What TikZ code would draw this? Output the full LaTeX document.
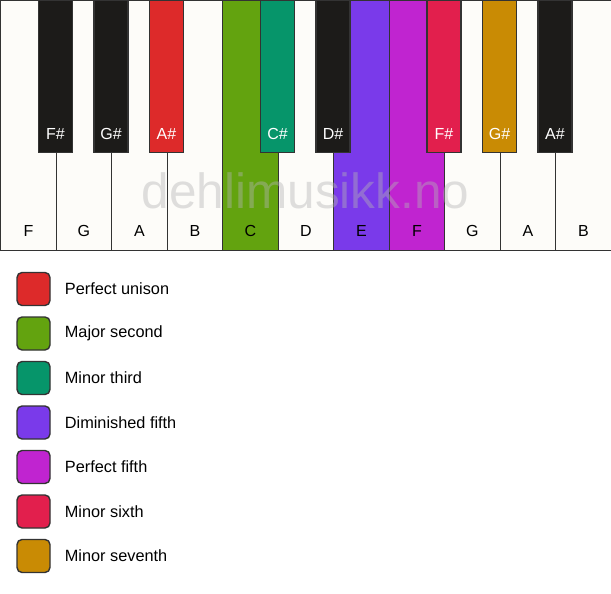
\documentclass[tikz,border=0pt]{standalone}
\usepackage{fontspec}
\setmainfont{Liberation Sans}
\usetikzlibrary{positioning}
\definecolor{keywhite}{HTML}{FDFCF9}
\definecolor{keyblack}{HTML}{1C1B19}
\definecolor{keyline}{HTML}{333333}
\definecolor{markgray}{RGB}{180,180,180}
\definecolor{unison}{HTML}{DD2A2A}
\definecolor{second}{HTML}{63A30F}
\definecolor{third}{HTML}{06956A}
\definecolor{dimfifth}{HTML}{7A3AEA}
\definecolor{fifth}{HTML}{C024D0}
\definecolor{sixth}{HTML}{E21F4D}
\definecolor{seventh}{HTML}{C98B04}
\begin{document}
\begin{tikzpicture}[x=1pt,y=-1pt]
\tikzstyle{every node}+=[inner sep=0pt]
\tikzstyle{whitekey}=[draw=keyline,line width=1.4pt,fill=keywhite,minimum width=55.5pt,minimum height=250pt,anchor=north west]
\tikzstyle{blackkey}=[draw=keyline,line width=1.4pt,fill=keyblack,minimum width=34pt,minimum height=152pt,anchor=north]
\tikzstyle{wname}=[font=\fontsize{16}{19}\selectfont,text=black]
\tikzstyle{bname}=[font=\fontsize{16}{19}\selectfont,text=white]
\tikzstyle{swatch}=[draw=keyline,line width=1.4pt,rounded corners=5pt,minimum size=33pt]
\tikzstyle{legtext}=[font=\fontsize{16.3}{19}\selectfont,anchor=west]
\fill[white] (0,0) rectangle (611,594);
\useasboundingbox (0,0) rectangle (611,594);
% white keys
\node[whitekey] (kF1) at (0,0) {};
\node[whitekey] (kG1) at (55.5,0) {};
\node[whitekey] (kA1) at (111,0) {};
\node[whitekey] (kB1) at (166.5,0) {};
\node[whitekey,fill=second] (kC) at (222,0) {};
\node[whitekey] (kD) at (277.5,0) {};
\node[whitekey,fill=dimfifth] (kE) at (333,0) {};
\node[whitekey,fill=fifth] (kF2) at (388.5,0) {};
\node[whitekey] (kG2) at (444,0) {};
\node[whitekey] (kA2) at (499.5,0) {};
\node[whitekey] (kB2) at (555,0) {};
\node[wname] (nF1) at ([yshift=20pt]kF1.south) {F};
\node[wname] (nG1) at ([yshift=20pt]kG1.south) {G};
\node[wname] (nA1) at ([yshift=20pt]kA1.south) {A};
\node[wname] (nB1) at ([yshift=20pt]kB1.south) {B};
\node[wname] (nC) at ([yshift=20pt]kC.south) {C};
\node[wname] (nD) at ([yshift=20pt]kD.south) {D};
\node[wname] (nE) at ([yshift=20pt]kE.south) {E};
\node[wname] (nF2) at ([yshift=20pt]kF2.south) {F};
\node[wname] (nG2) at ([yshift=20pt]kG2.south) {G};
\node[wname] (nA2) at ([yshift=20pt]kA2.south) {A};
\node[wname] (nB2) at ([yshift=20pt]kB2.south) {B};
% watermark
\node[font=\fontsize{49.5}{56}\selectfont,text=markgray,opacity=0.42,anchor=base] (mark) at (305.5,208) {dehlimusikk.no};
% black keys
\node[blackkey] (kFs1) at (55.5,0) {};
\node[blackkey] (kGs1) at (111,0) {};
\node[blackkey,fill=unison] (kAs1) at (166.5,0) {};
\node[blackkey,fill=third] (kCs) at (277.5,0) {};
\node[blackkey] (kDs) at (333,0) {};
\node[blackkey,fill=sixth] (kFs2) at (444,0) {};
\node[blackkey,fill=seventh] (kGs2) at (499.5,0) {};
\node[blackkey] (kAs2) at (555,0) {};
\node[bname] (nFs1) at ([yshift=19pt]kFs1.south) {F\#};
\node[bname] (nGs1) at ([yshift=19pt]kGs1.south) {G\#};
\node[bname] (nAs1) at ([yshift=19pt]kAs1.south) {A\#};
\node[bname] (nCs) at ([yshift=19pt]kCs.south) {C\#};
\node[bname] (nDs) at ([yshift=19pt]kDs.south) {D\#};
\node[bname] (nFs2) at ([yshift=19pt]kFs2.south) {F\#};
\node[bname] (nGs2) at ([yshift=19pt]kGs2.south) {G\#};
\node[bname] (nAs2) at ([yshift=19pt]kAs2.south) {A\#};
% legend
\node[swatch,fill=unison] (sw1) at (33.5,289) {};
\node[swatch,fill=second] (sw2) at (33.5,333.5) {};
\node[swatch,fill=third] (sw3) at (33.5,378) {};
\node[swatch,fill=dimfifth] (sw4) at (33.5,422.5) {};
\node[swatch,fill=fifth] (sw5) at (33.5,467) {};
\node[swatch,fill=sixth] (sw6) at (33.5,511.5) {};
\node[swatch,fill=seventh] (sw7) at (33.5,556) {};
\node[legtext,right=14pt of sw1] (lg1) {Perfect unison};
\node[legtext,right=14pt of sw2] (lg2) {Major second};
\node[legtext,right=14pt of sw3] (lg3) {Minor third};
\node[legtext,right=14pt of sw4] (lg4) {Diminished fifth};
\node[legtext,right=14pt of sw5] (lg5) {Perfect fifth};
\node[legtext,right=14pt of sw6] (lg6) {Minor sixth};
\node[legtext,right=14pt of sw7] (lg7) {Minor seventh};
\end{tikzpicture}
\end{document}
